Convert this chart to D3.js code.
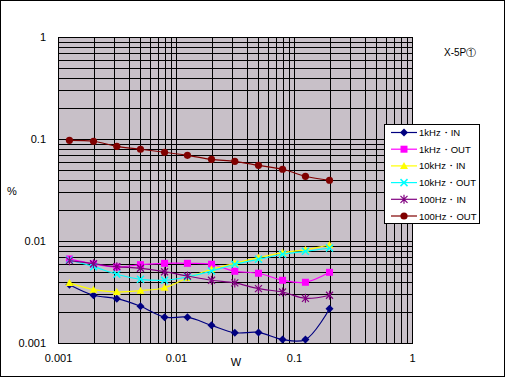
<!DOCTYPE html>
<html lang="ja">
<head>
<meta charset="UTF-8">
<title>X-5P</title>
<style>
    body { margin: 0; background: #fff; }
    svg { display: block; }
    text { font-family: "Liberation Sans", Arial, sans-serif; fill: #000; }
</style>
</head>
<body>
<script src="https://cdn.jsdelivr.net/npm/d3@7"></script>
<script>
    const W = 505, H = 377;

    // watts (x)
    const watts = [0.00125, 0.002, 0.00315, 0.005, 0.008, 0.0125, 0.02, 0.0315, 0.05, 0.08, 0.125, 0.2];

    // distortion in % for each series
    const in1k    = [0.00373, 0.00294, 0.00272, 0.00229, 0.00179, 0.00179, 0.00149, 0.00126, 0.00127, 0.00108, 0.00108, 0.00217];
    const out1k   = [0.00667, 0.00595, 0.00556, 0.00586, 0.00604, 0.00604, 0.00592, 0.00505, 0.00483, 0.00412, 0.00394, 0.00493];
    const in10k   = [0.00388, 0.00333, 0.00316, 0.00326, 0.00348, 0.00434, 0.00528, 0.00604, 0.00686, 0.00768, 0.00822, 0.00914];
    const out10k  = [0.00651, 0.00560, 0.00472, 0.00421, 0.00412, 0.00444, 0.00508, 0.00592, 0.00662, 0.00741, 0.00792, 0.00854];
    const in100   = [0.00641, 0.00599, 0.00560, 0.00540, 0.00500, 0.00454, 0.00412, 0.00388, 0.00341, 0.00316, 0.00274, 0.00294];
    const out100  = [0.0971, 0.0950, 0.0848, 0.0793, 0.0741, 0.0692, 0.0632, 0.0604, 0.0552, 0.0505, 0.0431, 0.0394];

    const seriesNames = ["1kHz・IN", "1kHz・OUT", "10kHz・IN", "10kHz・OUT", "100Hz・IN", "100Hz・OUT"];
    const seriesValues = [in1k, out1k, in10k, out10k, in100, out100];
    const seriesColors = ["#000080", "#ff00ff", "#ffff00", "#00ffff", "#800080", "#800000"];
    const seriesMarks = ["diamond", "square", "triangle", "x", "star", "circle"];

    const axisTicks = [0.001, 0.01, 0.1, 1];
    const axisTickLabels = ["0.001", "0.01", "0.1", "1"];
    const title = "X-5P①";

    const svg = d3.select("body").append("svg")
        .attr("width", W)
        .attr("height", H);

    svg.append("clipPath").attr("id", "plotclip")
        .append("rect").attr("x", 58).attr("y", 37).attr("width", 354).attr("height", 306);

    const x = d3.scaleLog().domain([0.001, 1]).range([58, 412]);
    const y = d3.scaleLog().domain([0.001, 1]).range([343, 37]);

    // frame around everything
    svg.append("rect")
        .attr("x", 0.5).attr("y", 0.5)
        .attr("width", 504).attr("height", 376)
        .attr("fill", "#fff").attr("stroke", "#000");

    // plot background (grey with a pink tint, like the dithered original)
    svg.append("rect")
        .attr("x", 58).attr("y", 37)
        .attr("width", 354).attr("height", 306)
        .attr("fill", "#c8c0c8");

    // all 1..9 x 10^k lines
    const gridVals = [];
    for (let k = -3; k < 0; k++) for (let m = 1; m < 10; m++) gridVals.push(m * Math.pow(10, k));
    gridVals.push(1);

    const gx = svg.append("g")
        .attr("transform", "translate(0,343)")
        .call(d3.axisBottom(x).tickValues(gridVals).tickSize(-306).tickFormat(""));
    const gy = svg.append("g")
        .attr("transform", "translate(58,0)")
        .call(d3.axisLeft(y).tickValues(gridVals).tickSize(-354).tickFormat(""));
    [gx, gy].forEach(g => {
        g.select(".domain").remove();
        g.selectAll("line").attr("stroke", "#000").attr("stroke-width", 1)
            .attr("shape-rendering", "crispEdges");
    });

    svg.append("rect")
        .attr("x", 58.5).attr("y", 37.5)
        .attr("width", 354).attr("height", 306)
        .attr("fill", "none").attr("stroke", "#000")
        .attr("shape-rendering", "crispEdges");

    // tick labels
    const lx = svg.append("g")
        .attr("transform", "translate(0,343)")
        .call(d3.axisBottom(x).tickValues(axisTicks).tickSize(0).tickPadding(11)
            .tickFormat((d, i) => axisTickLabels[i]));
    const ly = svg.append("g")
        .attr("transform", "translate(58,0)")
        .call(d3.axisLeft(y).tickValues(axisTicks).tickSize(0).tickPadding(12)
            .tickFormat((d, i) => axisTickLabels[i]));
    [lx, ly].forEach(g => {
        g.select(".domain").remove();
        g.selectAll("text").attr("font-size", 11).attr("fill", "#000")
            .attr("font-family", "'Liberation Sans', Arial, sans-serif");
    });

    svg.append("text").attr("x", 236).attr("y", 366)
        .attr("text-anchor", "middle").attr("font-size", 11).text("W");
    svg.append("text").attr("x", 12).attr("y", 195)
        .attr("text-anchor", "middle").attr("font-size", 11).text("%");
    svg.append("text").attr("x", 444).attr("y", 56)
        .attr("font-size", 10).text(title);

    // marker drawing
    function marker(g, kind, color) {
        if (kind === "diamond") {
            g.append("path").attr("d", "M0,-4L4,0L0,4L-4,0Z").attr("fill", color);
        } else if (kind === "square") {
            g.append("rect").attr("x", -3.5).attr("y", -3.5).attr("width", 7).attr("height", 7).attr("fill", color);
        } else if (kind === "triangle") {
            g.append("path").attr("d", "M0,-4L4,3L-4,3Z").attr("fill", color);
        } else if (kind === "x") {
            g.append("path").attr("d", "M-3.5,-3.5L3.5,3.5M-3.5,3.5L3.5,-3.5")
                .attr("stroke", color).attr("stroke-width", 1.5).attr("fill", "none");
        } else if (kind === "star") {
            g.append("path").attr("d", "M-3.5,-3.5L3.5,3.5M-3.5,3.5L3.5,-3.5M0,-4.5L0,4.5")
                .attr("stroke", color).attr("stroke-width", 1.2).attr("fill", "none");
        } else {
            g.append("circle").attr("r", 3.6).attr("fill", color);
        }
    }

    const line = d3.line()
        .x(d => x(d[0]))
        .y(d => y(d[1]))
        .curve(d3.curveCatmullRom.alpha(0.5));

    const plot = svg.append("g").attr("clip-path", "url(#plotclip)");

    seriesValues.forEach((vals, i) => {
        const pts = watts.map((w, j) => [w, vals[j]]);
        plot.append("path")
            .datum(pts)
            .attr("d", line)
            .attr("fill", "none")
            .attr("stroke", seriesColors[i])
            .attr("stroke-width", 1.2);
        pts.forEach(p => {
            const g = plot.append("g").attr("transform", `translate(${x(p[0])},${y(p[1])})`);
            marker(g, seriesMarks[i], seriesColors[i]);
        });
    });

    // legend
    const legend = svg.append("g");
    legend.append("rect")
        .attr("x", 384.5).attr("y", 124.5)
        .attr("width", 95).attr("height", 99)
        .attr("fill", "#fff").attr("stroke", "#000");
    seriesNames.forEach((name, i) => {
        const ry = 132.5 + i * 16.7;
        legend.append("line")
            .attr("x1", 391).attr("x2", 417)
            .attr("y1", ry).attr("y2", ry)
            .attr("stroke", seriesColors[i]).attr("stroke-width", 1.2);
        marker(legend.append("g").attr("transform", `translate(404,${ry})`), seriesMarks[i], seriesColors[i]);
        legend.append("text")
            .attr("x", 419).attr("y", ry + 3.5)
            .attr("font-size", 9.5)
            .text(name);
    });
</script>
</body>
</html>
